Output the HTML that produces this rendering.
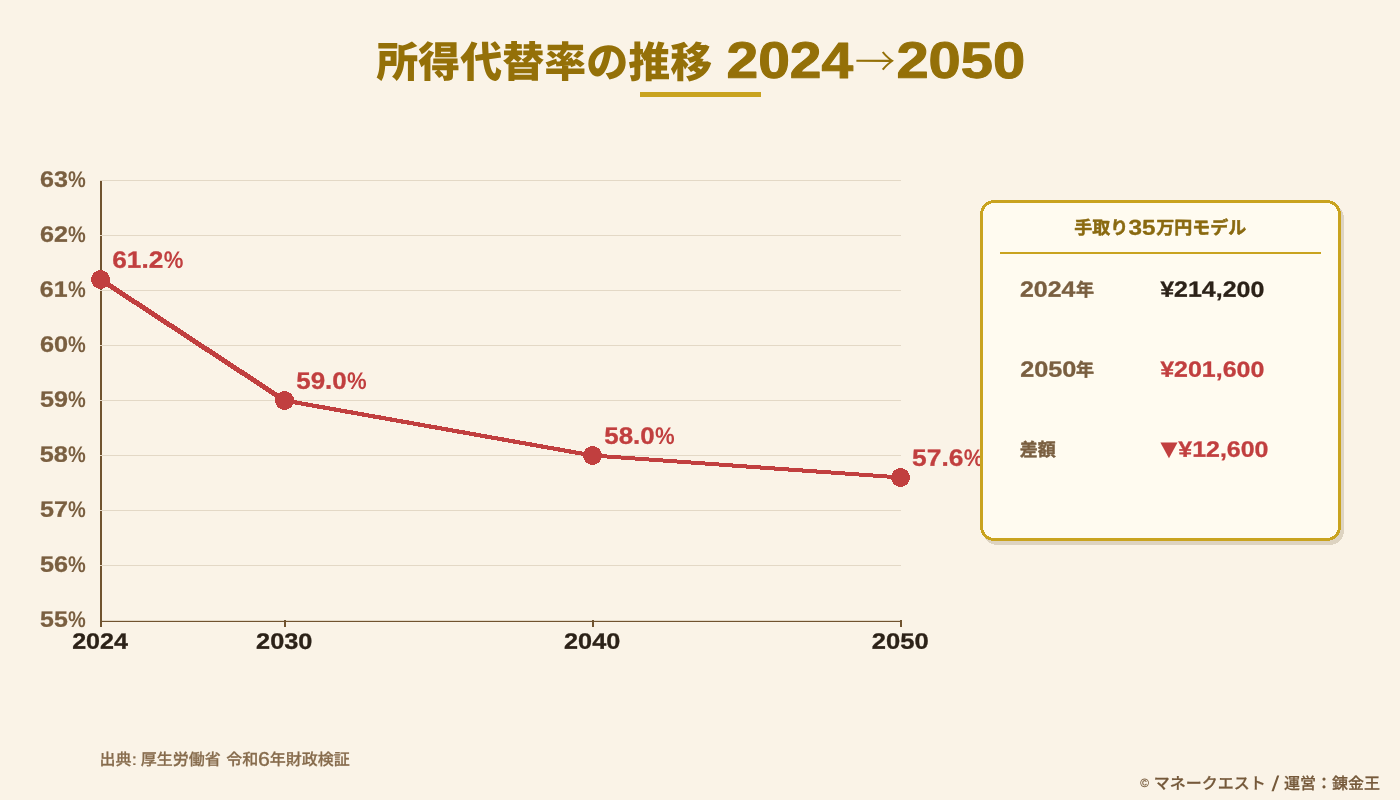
<!DOCTYPE html>
<html lang="ja">
<head>
<meta charset="utf-8">
<title>所得代替率の推移 2024→2050</title>
<style>
html,body{margin:0;padding:0;}
body{width:1400px;height:800px;overflow:hidden;background:#faf3e7;font-family:"Liberation Sans","Noto Sans CJK JP",sans-serif;}
svg{display:block;position:absolute;left:0;top:0;}
svg text{font-family:"Liberation Sans","Noto Sans CJK JP",sans-serif;}
.l{font-family:"Liberation Sans",sans-serif;}
.j{font-family:"Noto Sans CJK JP","Liberation Sans",sans-serif;}
</style>
</head>
<body>
<svg width="1400" height="800" viewBox="0 0 1400 800">
<rect width="1400" height="800" fill="#faf3e7"/>
<!-- title -->
<text transform="rotate(0.03)" stroke-linejoin="round" style="text-rendering:geometricPrecision"><tspan class="j" x="376.34" y="76.8" font-weight="900" font-size="42" fill="#947008">所得代替率の推移</tspan> <tspan class="l" x="726.62" y="77.46" font-weight="700" font-size="51.06" fill="#947008" stroke="#947008" stroke-width="1.0" textLength="126.6" lengthAdjust="spacingAndGlyphs">2024</tspan><tspan class="j" x="854.84" y="75.85" font-weight="300" font-size="40.6" fill="#947008">→</tspan><tspan class="l" x="896.49" y="77.37" font-weight="700" font-size="51.06" fill="#947008" stroke="#947008" stroke-width="1.0" textLength="128.59" lengthAdjust="spacingAndGlyphs">2050</tspan></text>
<rect x="640" y="92" width="121" height="5" fill="#c9a31f" shape-rendering="crispEdges"/>
<!-- chart -->
<g fill="#70532f" shape-rendering="crispEdges">
<rect x="100" y="180" width="2" height="442"/>
<rect x="100" y="620" width="802" height="2"/>
</g>
<g fill="#e3d8c6" shape-rendering="crispEdges">
<rect x="100" y="180" width="801" height="1"/>
<rect x="100" y="235" width="801" height="1"/>
<rect x="100" y="290" width="801" height="1"/>
<rect x="100" y="345" width="801" height="1"/>
<rect x="100" y="400" width="801" height="1"/>
<rect x="100" y="455" width="801" height="1"/>
<rect x="100" y="510" width="801" height="1"/>
<rect x="100" y="565" width="801" height="1"/>
<rect x="100" y="620" width="801" height="1"/>
</g>
<g fill="#70532f" shape-rendering="crispEdges">
<rect x="100" y="620" width="2" height="7"/>
<rect x="284" y="620" width="2" height="7"/>
<rect x="592" y="620" width="2" height="7"/>
<rect x="900" y="620" width="2" height="7"/>
</g>
<text transform="rotate(0.03)" stroke-linejoin="round" style="text-rendering:geometricPrecision"><tspan class="l" x="40.11" y="186.63" font-weight="700" font-size="22.27" fill="#7a5f40" stroke="#7a5f40" stroke-width="0.3" textLength="27.91" lengthAdjust="spacingAndGlyphs">63</tspan><tspan class="l" x="68.17" y="186.76" font-weight="700" font-size="22.7" fill="#7a5f40" textLength="17.77" lengthAdjust="spacingAndGlyphs">%</tspan></text>
<text transform="rotate(0.03)" stroke-linejoin="round" style="text-rendering:geometricPrecision"><tspan class="l" x="40.12" y="241.63" font-weight="700" font-size="22.27" fill="#7a5f40" stroke="#7a5f40" stroke-width="0.3" textLength="27.98" lengthAdjust="spacingAndGlyphs">62</tspan><tspan class="l" x="68.2" y="241.76" font-weight="700" font-size="22.7" fill="#7a5f40" textLength="17.77" lengthAdjust="spacingAndGlyphs">%</tspan></text>
<text transform="rotate(0.03)" stroke-linejoin="round" style="text-rendering:geometricPrecision"><tspan class="l" x="39.99" y="296.63" font-weight="700" font-size="22.27" fill="#7a5f40" stroke="#7a5f40" stroke-width="0.3" textLength="27.77" lengthAdjust="spacingAndGlyphs">61</tspan><tspan class="l" x="68.23" y="296.76" font-weight="700" font-size="22.7" fill="#7a5f40" textLength="17.77" lengthAdjust="spacingAndGlyphs">%</tspan></text>
<text transform="rotate(0.03)" stroke-linejoin="round" style="text-rendering:geometricPrecision"><tspan class="l" x="40.16" y="351.63" font-weight="700" font-size="22.27" fill="#7a5f40" stroke="#7a5f40" stroke-width="0.3" textLength="28.11" lengthAdjust="spacingAndGlyphs">60</tspan><tspan class="l" x="68.25" y="351.76" font-weight="700" font-size="22.7" fill="#7a5f40" textLength="17.77" lengthAdjust="spacingAndGlyphs">%</tspan></text>
<text transform="rotate(0.03)" stroke-linejoin="round" style="text-rendering:geometricPrecision"><tspan class="l" x="40.12" y="406.63" font-weight="700" font-size="22.27" fill="#7a5f40" stroke="#7a5f40" stroke-width="0.3" textLength="28.0" lengthAdjust="spacingAndGlyphs">59</tspan><tspan class="l" x="68.28" y="406.76" font-weight="700" font-size="22.7" fill="#7a5f40" textLength="17.77" lengthAdjust="spacingAndGlyphs">%</tspan></text>
<text transform="rotate(0.03)" stroke-linejoin="round" style="text-rendering:geometricPrecision"><tspan class="l" x="40.01" y="461.63" font-weight="700" font-size="22.27" fill="#7a5f40" stroke="#7a5f40" stroke-width="0.3" textLength="28.08" lengthAdjust="spacingAndGlyphs">58</tspan><tspan class="l" x="68.31" y="461.76" font-weight="700" font-size="22.7" fill="#7a5f40" textLength="17.77" lengthAdjust="spacingAndGlyphs">%</tspan></text>
<text transform="rotate(0.03)" stroke-linejoin="round" style="text-rendering:geometricPrecision"><tspan class="l" x="40.31" y="516.63" font-weight="700" font-size="22.27" fill="#7a5f40" stroke="#7a5f40" stroke-width="0.3" textLength="27.95" lengthAdjust="spacingAndGlyphs">57</tspan><tspan class="l" x="68.34" y="516.76" font-weight="700" font-size="22.7" fill="#7a5f40" textLength="17.77" lengthAdjust="spacingAndGlyphs">%</tspan></text>
<text transform="rotate(0.03)" stroke-linejoin="round" style="text-rendering:geometricPrecision"><tspan class="l" x="40.21" y="571.63" font-weight="700" font-size="22.27" fill="#7a5f40" stroke="#7a5f40" stroke-width="0.3" textLength="28.04" lengthAdjust="spacingAndGlyphs">56</tspan><tspan class="l" x="68.37" y="571.76" font-weight="700" font-size="22.7" fill="#7a5f40" textLength="17.77" lengthAdjust="spacingAndGlyphs">%</tspan></text>
<text transform="rotate(0.03)" stroke-linejoin="round" style="text-rendering:geometricPrecision"><tspan class="l" x="40.4" y="626.63" font-weight="700" font-size="22.27" fill="#7a5f40" stroke="#7a5f40" stroke-width="0.3" textLength="27.72" lengthAdjust="spacingAndGlyphs">55</tspan><tspan class="l" x="68.4" y="626.76" font-weight="700" font-size="22.7" fill="#7a5f40" textLength="17.77" lengthAdjust="spacingAndGlyphs">%</tspan></text>
<text transform="rotate(0.03)" stroke-linejoin="round" style="text-rendering:geometricPrecision"><tspan class="l" x="72.49" y="648.81" font-weight="700" font-size="22.27" fill="#2c2218" stroke="#2c2218" stroke-width="0.3" textLength="55.88" lengthAdjust="spacingAndGlyphs">2024</tspan></text>
<text transform="rotate(0.03)" stroke-linejoin="round" style="text-rendering:geometricPrecision"><tspan class="l" x="256.43" y="648.72" font-weight="700" font-size="22.27" fill="#2c2218" stroke="#2c2218" stroke-width="0.3" textLength="56.38" lengthAdjust="spacingAndGlyphs">2030</tspan></text>
<text transform="rotate(0.03)" stroke-linejoin="round" style="text-rendering:geometricPrecision"><tspan class="l" x="564.4" y="648.55" font-weight="700" font-size="22.27" fill="#2c2218" stroke="#2c2218" stroke-width="0.3" textLength="56.19" lengthAdjust="spacingAndGlyphs">2040</tspan></text>
<text transform="rotate(0.03)" stroke-linejoin="round" style="text-rendering:geometricPrecision"><tspan class="l" x="872.06" y="648.39" font-weight="700" font-size="22.27" fill="#2c2218" stroke="#2c2218" stroke-width="0.3" textLength="56.92" lengthAdjust="spacingAndGlyphs">2050</tspan></text>
<g fill="none" stroke="#c13f3f" shape-rendering="crispEdges">
<line x1="100.5" y1="279.5" x2="284.6" y2="400.5" stroke-width="5"/>
<line x1="284.6" y1="400.5" x2="592.5" y2="455.5" stroke-width="4.2"/>
<line x1="592.5" y1="455.5" x2="900.5" y2="477.5" stroke-width="4"/>
</g>
<g fill="#c13f3f" shape-rendering="crispEdges">
<circle cx="100.5" cy="279.5" r="9.5"/>
<circle cx="284.6" cy="400.5" r="9.5"/>
<circle cx="592.5" cy="455.5" r="9.5"/>
<circle cx="900.5" cy="477.5" r="9.5"/>
</g>
<text transform="rotate(0.03)" stroke-linejoin="round" style="text-rendering:geometricPrecision"><tspan class="l" x="112.41" y="267.78" font-weight="700" font-size="23.55" fill="#c13f3f" stroke="#c13f3f" stroke-width="0.3" textLength="51.05" lengthAdjust="spacingAndGlyphs">61.2</tspan><tspan class="l" x="163.86" y="267.89" font-weight="700" font-size="23.97" fill="#c13f3f" textLength="19.6" lengthAdjust="spacingAndGlyphs">%</tspan></text>
<text transform="rotate(0.03)" stroke-linejoin="round" style="text-rendering:geometricPrecision"><tspan class="l" x="296.49" y="388.68" font-weight="700" font-size="23.55" fill="#c13f3f" stroke="#c13f3f" stroke-width="0.3" textLength="50.44" lengthAdjust="spacingAndGlyphs">59.0</tspan><tspan class="l" x="347.22" y="388.8" font-weight="700" font-size="23.97" fill="#c13f3f" textLength="19.6" lengthAdjust="spacingAndGlyphs">%</tspan></text>
<text transform="rotate(0.03)" stroke-linejoin="round" style="text-rendering:geometricPrecision"><tspan class="l" x="604.52" y="443.52" font-weight="700" font-size="23.55" fill="#c13f3f" stroke="#c13f3f" stroke-width="0.3" textLength="50.44" lengthAdjust="spacingAndGlyphs">58.0</tspan><tspan class="l" x="655.25" y="443.64" font-weight="700" font-size="23.97" fill="#c13f3f" textLength="19.6" lengthAdjust="spacingAndGlyphs">%</tspan></text>
<text transform="rotate(0.03)" stroke-linejoin="round" style="text-rendering:geometricPrecision"><tspan class="l" x="912.33" y="465.36" font-weight="700" font-size="23.55" fill="#c13f3f" stroke="#c13f3f" stroke-width="0.3" textLength="51.31" lengthAdjust="spacingAndGlyphs">57.6</tspan><tspan class="l" x="963.96" y="465.48" font-weight="700" font-size="23.97" fill="#c13f3f" textLength="19.6" lengthAdjust="spacingAndGlyphs">%</tspan></text>
<!-- panel -->
<g shape-rendering="crispEdges">
<rect x="983" y="204" width="361" height="341" rx="14.5" fill="#ddd3c1"/>
<rect x="980" y="200" width="361" height="341" rx="14.5" fill="#c9a31f"/>
<rect x="983" y="203" width="355" height="335" rx="11.5" fill="#fffbf0"/>
<rect x="1000" y="252" width="321" height="2" fill="#c9a31f"/>
</g>
<text transform="rotate(0.03)" stroke-linejoin="round" style="text-rendering:geometricPrecision"><tspan class="j" x="1074.42" y="233.44" font-weight="700" font-size="18" fill="#8a6a10" stroke="#8a6a10" stroke-width="0.5">手取り</tspan><tspan class="l" x="1128.73" y="234.07" font-weight="700" font-size="21.56" fill="#8a6a10" stroke="#8a6a10" stroke-width="0.3" textLength="27.02" lengthAdjust="spacingAndGlyphs">35</tspan><tspan class="j" x="1156.42" y="233.39" font-weight="700" font-size="18" fill="#8a6a10" stroke="#8a6a10" stroke-width="0.5">万円モデル</tspan></text>
<text transform="rotate(0.03)" stroke-linejoin="round" style="text-rendering:geometricPrecision"><tspan class="l" x="1020.11" y="296.32" font-weight="700" font-size="22.13" fill="#7a5f40" stroke="#7a5f40" stroke-width="0.3" textLength="55.54" lengthAdjust="spacingAndGlyphs">2024</tspan><tspan class="j" x="1076.05" y="295.44" font-weight="700" font-size="18" fill="#7a5f40" stroke="#7a5f40" stroke-width="0.5">年</tspan></text>
<text transform="rotate(0.03)" stroke-linejoin="round" style="text-rendering:geometricPrecision"><tspan class="l" x="1160.32" y="296.24" font-weight="700" font-size="22.13" fill="#2c2218" stroke="#2c2218" stroke-width="0.3" textLength="104.21" lengthAdjust="spacingAndGlyphs">¥214,200</tspan></text>
<text transform="rotate(0.03)" stroke-linejoin="round" style="text-rendering:geometricPrecision"><tspan class="l" x="1020.45" y="376.32" font-weight="700" font-size="22.13" fill="#7a5f40" stroke="#7a5f40" stroke-width="0.3" textLength="56.16" lengthAdjust="spacingAndGlyphs">2050</tspan><tspan class="j" x="1076.1" y="375.44" font-weight="700" font-size="18" fill="#7a5f40" stroke="#7a5f40" stroke-width="0.5">年</tspan></text>
<text transform="rotate(0.03)" stroke-linejoin="round" style="text-rendering:geometricPrecision"><tspan class="l" x="1160.36" y="376.24" font-weight="700" font-size="22.13" fill="#c13f3f" stroke="#c13f3f" stroke-width="0.3" textLength="104.21" lengthAdjust="spacingAndGlyphs">¥201,600</tspan></text>
<text transform="rotate(0.03)" stroke-linejoin="round" style="text-rendering:geometricPrecision"><tspan class="j" x="1020.04" y="455.47" font-weight="700" font-size="18" fill="#7a5f40" stroke="#7a5f40" stroke-width="0.5">差額</tspan></text>
<text transform="rotate(0.03)" stroke-linejoin="round" style="text-rendering:geometricPrecision"><tspan class="l" x="1154.77" y="457.3" font-weight="700" font-size="27.3" fill="#c13f3f" textLength="28.95" lengthAdjust="spacingAndGlyphs">▼</tspan><tspan class="l" x="1178.54" y="456.23" font-weight="700" font-size="22.27" fill="#c13f3f" stroke="#c13f3f" stroke-width="0.3" textLength="90.22" lengthAdjust="spacingAndGlyphs">¥12,600</tspan></text>
<!-- footer -->
<text transform="rotate(0.03)" stroke-linejoin="round" style="text-rendering:geometricPrecision"><tspan class="j" x="99.9" y="764.95" font-weight="500" font-size="16" fill="#866b4c" stroke="#866b4c" stroke-width="0.25">出典</tspan><tspan class="l" x="131.86" y="764.93" font-weight="400" font-size="16" fill="#866b4c" stroke="#866b4c" stroke-width="0.2" textLength="5.67" lengthAdjust="spacingAndGlyphs">:</tspan> <tspan class="j" x="141.2" y="764.93" font-weight="500" font-size="16" fill="#866b4c" stroke="#866b4c" stroke-width="0.25">厚生労働省</tspan> <tspan class="j" x="226.7" y="764.88" font-weight="500" font-size="16" fill="#866b4c" stroke="#866b4c" stroke-width="0.25">令和</tspan><tspan class="l" x="258.43" y="765.68" font-weight="400" font-size="19.72" fill="#866b4c" stroke="#866b4c" stroke-width="0.4" textLength="11.87" lengthAdjust="spacingAndGlyphs">6</tspan><tspan class="j" x="270.2" y="764.86" font-weight="500" font-size="16" fill="#866b4c" stroke="#866b4c" stroke-width="0.25">年財政検証</tspan></text>
<text transform="rotate(0.03)" stroke-linejoin="round" style="text-rendering:geometricPrecision"><tspan class="l" x="1140.76" y="786.4" font-weight="400" font-size="12" fill="#75593a" stroke="#75593a" stroke-width="0.2" textLength="8.66" lengthAdjust="spacingAndGlyphs">©</tspan> <tspan class="j" x="1154.16" y="788.4" font-weight="500" font-size="16" fill="#75593a" stroke="#75593a" stroke-width="0.25">マネークエスト</tspan> <tspan class="l" x="1271.84" y="790.33" font-weight="400" font-size="21.3" fill="#75593a" textLength="7.74" lengthAdjust="spacingAndGlyphs">/</tspan> <tspan class="j" x="1284.31" y="788.33" font-weight="500" font-size="16" fill="#75593a" stroke="#75593a" stroke-width="0.25">運営：錬金王</tspan></text>
</svg>
</body>
</html>
